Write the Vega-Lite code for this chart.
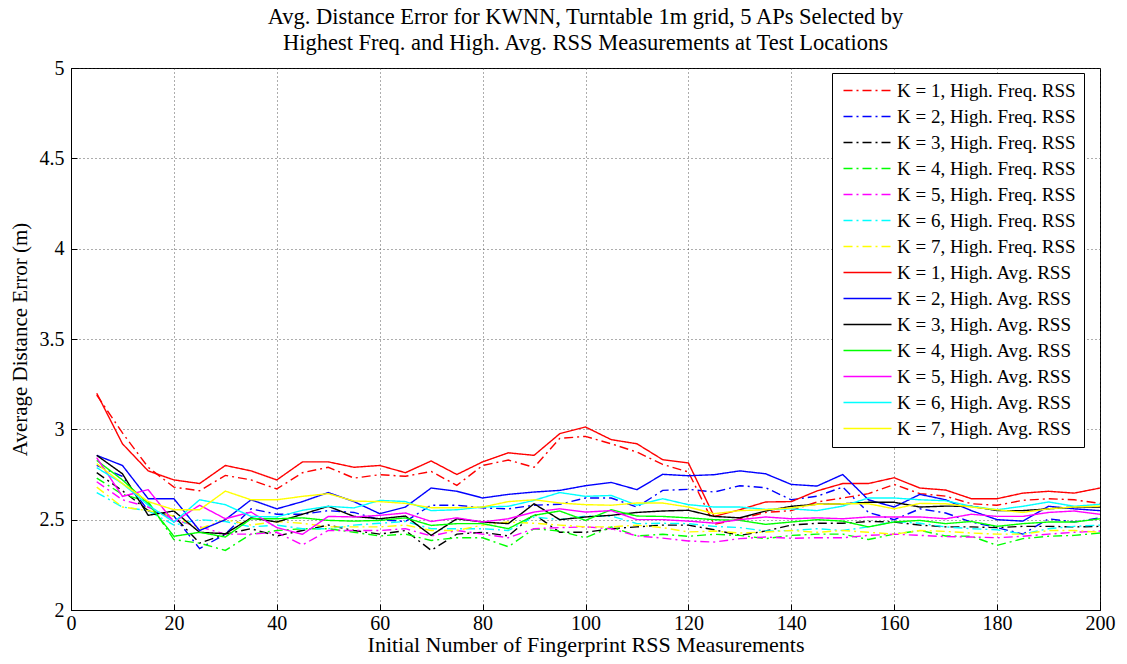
{
"$schema": "https://vega.github.io/schema/vega-lite/v6.json",
"autosize": "none",
"padding": {"left": 71, "top": 68, "right": 27, "bottom": 54},
"width": 1029, "height": 542,
"background": "white",
"config": {"font": "Liberation Serif", "view": {"stroke": "black", "strokeWidth": 1}},
"title": {"text": ["Avg. Distance Error for KWNN, Turntable 1m grid, 5 APs Selected by", "Highest Freq. and High. Avg. RSS Measurements at Test Locations"], "fontSize": 22.5, "fontWeight": "normal", "font": "Liberation Serif", "color": "black", "lineHeight": 26, "offset": 4, "anchor": "middle"},
"data": {"values": [
{"x":5,"F1":3.19,"F2":2.80,"F3":2.76,"F4":2.73,"F5":2.71,"F6":2.65,"F7":2.68,"A1":3.20,"A2":2.856,"A3":2.856,"A4":2.828,"A5":2.843,"A6":2.788,"A7":2.81},
{"x":10,"F1":2.98,"F2":2.74,"F3":2.66,"F4":2.64,"F5":2.61,"F6":2.57,"F7":2.57,"A1":2.92,"A2":2.80,"A3":2.754,"A4":2.72,"A5":2.629,"A6":2.70,"A7":2.70},
{"x":15,"F1":2.79,"F2":2.55,"F3":2.55,"F4":2.60,"F5":2.57,"F6":2.55,"F7":2.55,"A1":2.77,"A2":2.616,"A3":2.524,"A4":2.59,"A5":2.666,"A6":2.58,"A7":2.60},
{"x":20,"F1":2.68,"F2":2.52,"F3":2.52,"F4":2.39,"F5":2.50,"F6":2.47,"F7":2.52,"A1":2.72,"A2":2.616,"A3":2.548,"A4":2.408,"A5":2.487,"A6":2.487,"A7":2.555},
{"x":25,"F1":2.66,"F2":2.34,"F3":2.37,"F4":2.37,"F5":2.46,"F6":2.50,"F7":2.45,"A1":2.70,"A2":2.44,"A3":2.43,"A4":2.43,"A5":2.58,"A6":2.61,"A7":2.555},
{"x":30,"F1":2.745,"F2":2.42,"F3":2.42,"F4":2.33,"F5":2.42,"F6":2.49,"F7":2.50,"A1":2.80,"A2":2.50,"A3":2.422,"A4":2.404,"A5":2.505,"A6":2.583,"A7":2.658},
{"x":35,"F1":2.72,"F2":2.56,"F3":2.45,"F4":2.42,"F5":2.42,"F6":2.46,"F7":2.47,"A1":2.77,"A2":2.61,"A3":2.51,"A4":2.505,"A5":2.542,"A6":2.518,"A7":2.61},
{"x":40,"F1":2.67,"F2":2.53,"F3":2.41,"F4":2.44,"F5":2.43,"F6":2.47,"F7":2.49,"A1":2.72,"A2":2.56,"A3":2.487,"A4":2.505,"A5":2.456,"A6":2.515,"A7":2.61},
{"x":45,"F1":2.76,"F2":2.53,"F3":2.44,"F4":2.45,"F5":2.36,"F6":2.45,"F7":2.48,"A1":2.82,"A2":2.60,"A3":2.53,"A4":2.51,"A5":2.419,"A6":2.552,"A7":2.629},
{"x":50,"F1":2.79,"F2":2.55,"F3":2.47,"F4":2.45,"F5":2.44,"F6":2.45,"F7":2.46,"A1":2.82,"A2":2.65,"A3":2.574,"A4":2.496,"A5":2.518,"A6":2.574,"A7":2.644},
{"x":55,"F1":2.73,"F2":2.54,"F3":2.44,"F4":2.43,"F5":2.44,"F6":2.47,"F7":2.46,"A1":2.79,"A2":2.60,"A3":2.518,"A4":2.492,"A5":2.515,"A6":2.565,"A7":2.603},
{"x":60,"F1":2.749,"F2":2.50,"F3":2.42,"F4":2.41,"F5":2.44,"F6":2.48,"F7":2.46,"A1":2.80,"A2":2.533,"A3":2.505,"A4":2.496,"A5":2.524,"A6":2.607,"A7":2.60},
{"x":65,"F1":2.74,"F2":2.49,"F3":2.44,"F4":2.42,"F5":2.45,"F6":2.49,"F7":2.47,"A1":2.76,"A2":2.57,"A3":2.52,"A4":2.51,"A5":2.537,"A6":2.60,"A7":2.59},
{"x":70,"F1":2.767,"F2":2.58,"F3":2.33,"F4":2.385,"F5":2.41,"F6":2.45,"F7":2.44,"A1":2.825,"A2":2.675,"A3":2.413,"A4":2.468,"A5":2.49,"A6":2.55,"A7":2.566},
{"x":75,"F1":2.69,"F2":2.58,"F3":2.42,"F4":2.40,"F5":2.44,"F6":2.45,"F7":2.44,"A1":2.75,"A2":2.657,"A3":2.505,"A4":2.478,"A5":2.51,"A6":2.555,"A7":2.566},
{"x":80,"F1":2.80,"F2":2.565,"F3":2.43,"F4":2.40,"F5":2.42,"F6":2.45,"F7":2.47,"A1":2.82,"A2":2.62,"A3":2.487,"A4":2.478,"A5":2.487,"A6":2.57,"A7":2.57},
{"x":85,"F1":2.83,"F2":2.56,"F3":2.41,"F4":2.35,"F5":2.40,"F6":2.44,"F7":2.487,"A1":2.87,"A2":2.64,"A3":2.478,"A4":2.45,"A5":2.505,"A6":2.574,"A7":2.60},
{"x":90,"F1":2.79,"F2":2.58,"F3":2.53,"F4":2.45,"F5":2.45,"F6":2.515,"F7":2.48,"A1":2.856,"A2":2.653,"A3":2.588,"A4":2.524,"A5":2.542,"A6":2.607,"A7":2.61},
{"x":95,"F1":2.95,"F2":2.585,"F3":2.43,"F4":2.437,"F5":2.456,"F6":2.50,"F7":2.47,"A1":2.976,"A2":2.662,"A3":2.50,"A4":2.548,"A5":2.56,"A6":2.65,"A7":2.592},
{"x":100,"F1":2.961,"F2":2.62,"F3":2.43,"F4":2.40,"F5":2.46,"F6":2.52,"F7":2.46,"A1":3.013,"A2":2.688,"A3":2.515,"A4":2.496,"A5":2.542,"A6":2.629,"A7":2.583},
{"x":105,"F1":2.92,"F2":2.62,"F3":2.45,"F4":2.46,"F5":2.45,"F6":2.52,"F7":2.46,"A1":2.943,"A2":2.706,"A3":2.524,"A4":2.555,"A5":2.55,"A6":2.634,"A7":2.58},
{"x":110,"F1":2.874,"F2":2.57,"F3":2.46,"F4":2.41,"F5":2.41,"F6":2.478,"F7":2.47,"A1":2.92,"A2":2.666,"A3":2.54,"A4":2.52,"A5":2.50,"A6":2.58,"A7":2.592},
{"x":115,"F1":2.806,"F2":2.662,"F3":2.47,"F4":2.419,"F5":2.398,"F6":2.48,"F7":2.456,"A1":2.832,"A2":2.751,"A3":2.548,"A4":2.518,"A5":2.50,"A6":2.616,"A7":2.592},
{"x":120,"F1":2.764,"F2":2.668,"F3":2.47,"F4":2.408,"F5":2.382,"F6":2.478,"F7":2.432,"A1":2.814,"A2":2.743,"A3":2.552,"A4":2.51,"A5":2.492,"A6":2.583,"A7":2.57},
{"x":125,"F1":2.474,"F2":2.653,"F3":2.444,"F4":2.419,"F5":2.376,"F6":2.463,"F7":2.437,"A1":2.518,"A2":2.749,"A3":2.518,"A4":2.50,"A5":2.481,"A6":2.57,"A7":2.533},
{"x":130,"F1":2.505,"F2":2.688,"F3":2.413,"F4":2.413,"F5":2.395,"F6":2.456,"F7":2.426,"A1":2.555,"A2":2.77,"A3":2.51,"A4":2.496,"A5":2.50,"A6":2.57,"A7":2.55},
{"x":135,"F1":2.54,"F2":2.677,"F3":2.437,"F4":2.395,"F5":2.404,"F6":2.437,"F7":2.432,"A1":2.598,"A2":2.754,"A3":2.548,"A4":2.474,"A5":2.515,"A6":2.557,"A7":2.555},
{"x":140,"F1":2.55,"F2":2.61,"F3":2.47,"F4":2.413,"F5":2.397,"F6":2.44,"F7":2.44,"A1":2.60,"A2":2.695,"A3":2.574,"A4":2.487,"A5":2.505,"A6":2.56,"A7":2.565},
{"x":145,"F1":2.598,"F2":2.63,"F3":2.48,"F4":2.42,"F5":2.40,"F6":2.45,"F7":2.43,"A1":2.659,"A2":2.686,"A3":2.585,"A4":2.50,"A5":2.51,"A6":2.55,"A7":2.585},
{"x":150,"F1":2.62,"F2":2.68,"F3":2.48,"F4":2.42,"F5":2.40,"F6":2.44,"F7":2.44,"A1":2.70,"A2":2.75,"A3":2.588,"A4":2.492,"A5":2.505,"A6":2.575,"A7":2.588},
{"x":155,"F1":2.644,"F2":2.54,"F3":2.49,"F4":2.39,"F5":2.413,"F6":2.46,"F7":2.43,"A1":2.70,"A2":2.61,"A3":2.596,"A4":2.46,"A5":2.515,"A6":2.62,"A7":2.588},
{"x":160,"F1":2.695,"F2":2.50,"F3":2.487,"F4":2.42,"F5":2.42,"F6":2.49,"F7":2.42,"A1":2.732,"A2":2.57,"A3":2.596,"A4":2.487,"A5":2.515,"A6":2.62,"A7":2.56},
{"x":165,"F1":2.644,"F2":2.56,"F3":2.47,"F4":2.44,"F5":2.413,"F6":2.48,"F7":2.44,"A1":2.675,"A2":2.64,"A3":2.57,"A4":2.496,"A5":2.515,"A6":2.61,"A7":2.59},
{"x":170,"F1":2.63,"F2":2.537,"F3":2.46,"F4":2.41,"F5":2.406,"F6":2.46,"F7":2.435,"A1":2.664,"A2":2.61,"A3":2.575,"A4":2.478,"A5":2.505,"A6":2.605,"A7":2.588},
{"x":175,"F1":2.588,"F2":2.487,"F3":2.46,"F4":2.408,"F5":2.404,"F6":2.45,"F7":2.426,"A1":2.616,"A2":2.55,"A3":2.574,"A4":2.49,"A5":2.53,"A6":2.574,"A7":2.57},
{"x":180,"F1":2.58,"F2":2.456,"F3":2.456,"F4":2.358,"F5":2.40,"F6":2.444,"F7":2.42,"A1":2.616,"A2":2.50,"A3":2.55,"A4":2.463,"A5":2.518,"A6":2.555,"A7":2.555},
{"x":185,"F1":2.607,"F2":2.42,"F3":2.463,"F4":2.395,"F5":2.408,"F6":2.42,"F7":2.42,"A1":2.647,"A2":2.492,"A3":2.55,"A4":2.478,"A5":2.518,"A6":2.574,"A7":2.54},
{"x":190,"F1":2.616,"F2":2.505,"F3":2.463,"F4":2.408,"F5":2.42,"F6":2.45,"F7":2.44,"A1":2.657,"A2":2.574,"A3":2.56,"A4":2.487,"A5":2.54,"A6":2.598,"A7":2.56},
{"x":195,"F1":2.61,"F2":2.487,"F3":2.46,"F4":2.413,"F5":2.43,"F6":2.463,"F7":2.44,"A1":2.647,"A2":2.56,"A3":2.57,"A4":2.487,"A5":2.548,"A6":2.574,"A7":2.57},
{"x":200,"F1":2.59,"F2":2.51,"F3":2.463,"F4":2.426,"F5":2.437,"F6":2.47,"F7":2.43,"A1":2.675,"A2":2.55,"A3":2.57,"A4":2.505,"A5":2.53,"A6":2.585,"A7":2.575}
]},
"transform": [{"fold": ["F1","F2","F3","F4","F5","F6","F7","A1","A2","A3","A4","A5","A6","A7"], "as": ["series", "value"]}],
"mark": {"type": "line", "strokeWidth": 1.4, "clip": true},
"encoding": {
  "x": {"field": "x", "type": "quantitative", "scale": {"domain": [0, 200], "nice": false},
        "axis": {"title": "Initial Number of Fingerprint RSS Measurements", "values": [0,20,40,60,80,100,120,140,160,180,200], "grid": true, "gridDash": [1,3], "gridColor": "#333", "gridOpacity": 0.8, "tickSize": -6, "tickColor": "black", "domainColor": "black", "labelFontSize": 20, "labelColor": "black", "labelFont": "Liberation Serif", "titleFont": "Liberation Serif", "titleFontSize": 22, "titleFontWeight": "normal", "titleColor": "black", "labelPadding": 9, "titlePadding": 1, "labelFlush": false}},
  "y": {"field": "value", "type": "quantitative", "scale": {"domain": [2, 5], "nice": false, "zero": false},
        "axis": {"title": "Average Distance Error (m)", "values": [2,2.5,3,3.5,4,4.5,5], "format": "~g", "grid": true, "gridDash": [1,3], "gridColor": "#333", "gridOpacity": 0.8, "tickSize": -6, "tickColor": "black", "domainColor": "black", "labelFontSize": 20, "labelColor": "black", "labelFont": "Liberation Serif", "titleFont": "Liberation Serif", "titleFontSize": 21, "titleFontWeight": "normal", "titleColor": "black", "labelPadding": 13, "titlePadding": 9, "labelFlush": false}},
  "color": {"field": "series", "type": "nominal",
     "scale": {"domain": ["F1","F2","F3","F4","F5","F6","F7","A1","A2","A3","A4","A5","A6","A7"],
               "range": ["#ff0000","#0000ff","#000000","#00ff00","#ff00ff","#00ffff","#ffff00","#ff0000","#0000ff","#000000","#00ff00","#ff00ff","#00ffff","#ffff00"]},
     "legend": {"title": null, "orient": "none", "legendX": 761, "legendY": 5, "fillColor": "white", "strokeColor": "black", "padding": 8, "labelFont": "Liberation Serif", "labelFontSize": 19, "labelColor": "black", "symbolType": "M-1,0H7", "symbolSize": 144, "symbolStrokeWidth": 1.4, "labelOffset": 38, "rowPadding": 6, "labelLimit": 300,
       "labelExpr": "'K = ' + substring(datum.label, 1) + (substring(datum.label, 0, 1) == 'F' ? ', High. Freq. RSS' : ', High. Avg. RSS')"}},
  "strokeDash": {"field": "series", "type": "nominal",
     "scale": {"domain": ["F1","F2","F3","F4","F5","F6","F7","A1","A2","A3","A4","A5","A6","A7"],
               "range": [[9,4,2,4],[9,4,2,4],[9,4,2,4],[9,4,2,4],[9,4,2,4],[9,4,2,4],[9,4,2,4],[1,0],[1,0],[1,0],[1,0],[1,0],[1,0],[1,0]]}}
}
}
